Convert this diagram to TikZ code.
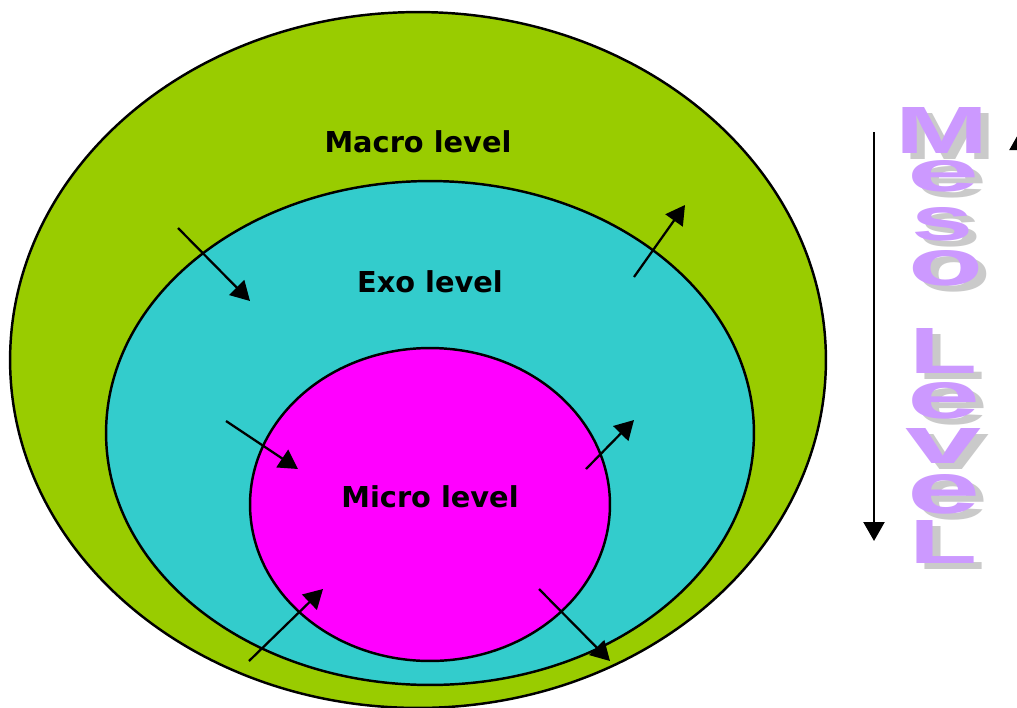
\documentclass[tikz,border=0pt]{standalone}
\usepackage{fontspec}
\usepackage{graphicx}
\usetikzlibrary{arrows.meta,shapes.geometric}
\newfontfamily\lblfont{DejaVu Sans}
\newfontfamily\mesofont{Liberation Sans}
\definecolor{macrogreen}{HTML}{99CC00}
\definecolor{exocyan}{HTML}{33CCCC}
\definecolor{micromag}{HTML}{FF00FF}
\definecolor{mesopurple}{HTML}{CC99FF}
\definecolor{mesoshadow}{HTML}{CACACA}
\tikzset{
  lvl/.style={ellipse, draw=black, line width=1.4pt, inner sep=0pt},
  lbl/.style={font=\lblfont\bfseries\fontsize{16.4}{18}\selectfont, text=black, inner sep=0pt},
  arr/.style={line width=0.045cm, -{Triangle[length=0.38cm,width=0.42cm]}},
  letter/.style={anchor=north west, inner sep=0pt, outer sep=0pt}
}
\newcommand\mesoglyph[6]{%
  \node[letter, text=mesoshadow] (#1s) at (#3+8,#4+6) {\resizebox{\dimexpr 0.02cm*#5\relax}{\dimexpr 0.02cm*#6\relax}{\mesofont\bfseries #2}};
  \node[letter, text=mesopurple] (#1) at (#3,#4) {\resizebox{\dimexpr 0.02cm*#5\relax}{\dimexpr 0.02cm*#6\relax}{\mesofont\bfseries #2}};
}
\begin{document}
\begin{tikzpicture}[x=0.02cm, y=-0.02cm]
\useasboundingbox (0,0) rectangle (1017,707);
\fill[white] (0,0) rectangle (1017,707);
% levels
\node[lvl, fill=macrogreen, minimum width=16.32cm, minimum height=13.92cm] (macro) at (418,360) {};
\node[lvl, fill=exocyan, minimum width=12.96cm, minimum height=10.08cm] (exo) at (430,433) {};
\node[lvl, fill=micromag, minimum width=7.2cm, minimum height=6.26cm] (micro) at (430,504.5) {};
% labels
\node[lbl] (tmacro) at (418,142) {Macro level};
\node[lbl] (texo) at (430,282) {Exo level};
\node[lbl] (tmicro) at (430,497) {Micro level};
% arrow coordinates
\coordinate (a1s) at (178,228); \coordinate (a1e) at (250,301);
\coordinate (a2s) at (634,277); \coordinate (a2e) at (685,205);
\coordinate (a3s) at (226,421); \coordinate (a3e) at (298,469);
\coordinate (a4s) at (586,469); \coordinate (a4e) at (634,420);
\coordinate (a5s) at (249,661); \coordinate (a5e) at (323,589);
\coordinate (a6s) at (539,589); \coordinate (a6e) at (610,661);
\coordinate (vds) at (874,132); \coordinate (vde) at (874,541);
\coordinate (vus) at (1020,541); \coordinate (vue) at (1020,131);
\draw[arr] (a1s) -- (a1e);
\draw[arr] (a2s) -- (a2e);
\draw[arr] (a3s) -- (a3e);
\draw[arr] (a4s) -- (a4e);
\draw[arr] (a5s) -- (a5e);
\draw[arr] (a6s) -- (a6e);
\draw[arr] (vds) -- (vde);
\draw[arr] (vus) -- (vue);
% Meso Level word art
\mesoglyph{mM}{M}{895}{107}{93}{46}
\mesoglyph{me1}{e}{907}{160}{72}{31}
\mesoglyph{ms}{s}{911}{207}{62}{33}
\mesoglyph{mo}{o}{908}{250}{75}{35}
\mesoglyph{mL1}{L}{909}{328}{68}{45}
\mesoglyph{me2}{e}{907}{382}{73}{36}
\mesoglyph{mv}{v}{905}{428}{76}{35}
\mesoglyph{me3}{e}{907}{474}{73}{39}
\mesoglyph{mL2}{L}{909}{520}{68}{43}
\end{tikzpicture}
\end{document}
